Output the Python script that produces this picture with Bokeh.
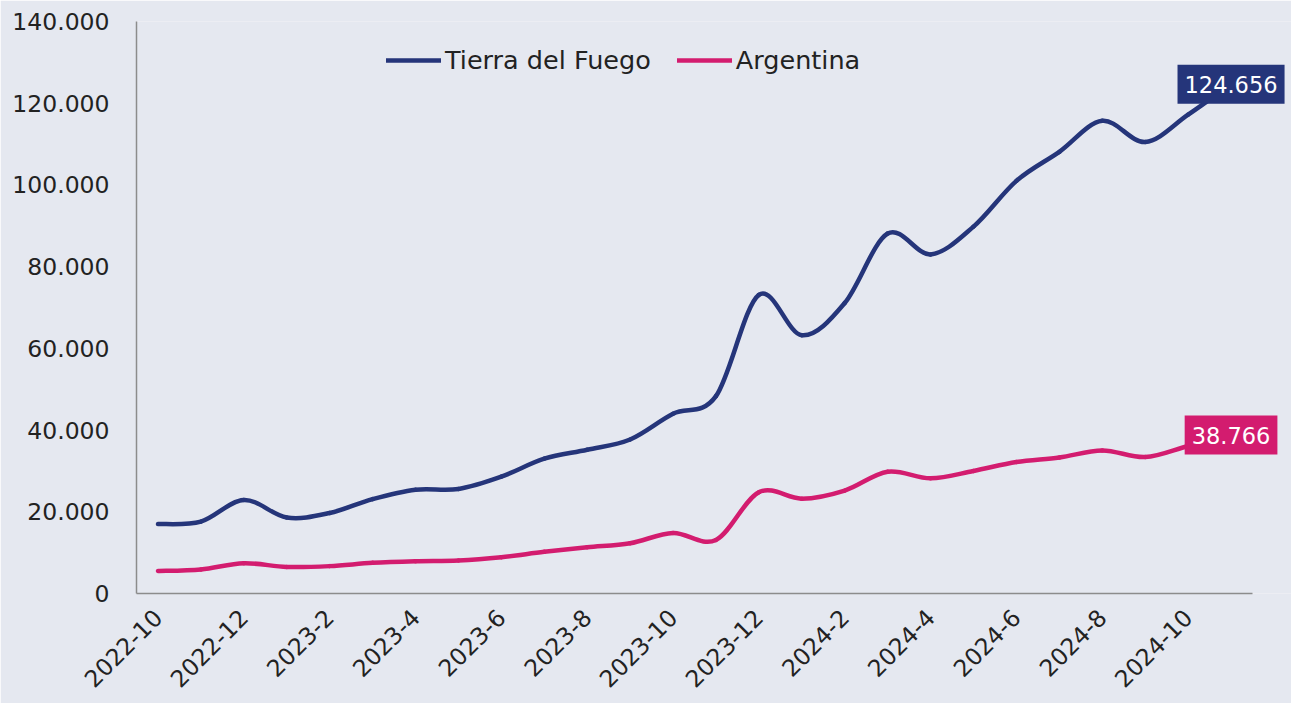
import math
from bokeh.plotting import figure
from bokeh.models import Range1d, FixedTicker, Label, Legend, LegendItem, ColumnDataSource
from bokeh.embed import file_html
from bokeh.resources import INLINE

months = ["2022-10", "2022-11", "2022-12", "2023-1", "2023-2", "2023-3", "2023-4", "2023-5",
          "2023-6", "2023-7", "2023-8", "2023-9", "2023-10", "2023-11", "2023-12", "2024-1",
          "2024-2", "2024-3", "2024-4", "2024-5", "2024-6", "2024-7", "2024-8", "2024-9",
          "2024-10", "2024-11"]
tierra_del_fuego = [17000, 17600, 22900, 18600, 19700, 23100, 25400, 25600, 28600, 33000,
                    35200, 37700, 44000, 48300, 73100, 63200, 71100, 88100, 83000, 89800,
                    101000, 108100, 115700, 110500, 117200, 124656]
argentina = [5500, 5900, 7400, 6500, 6700, 7500, 7900, 8100, 8900, 10200,
             11300, 12300, 14800, 13100, 24800, 23200, 25200, 29800, 28200, 30000,
             32200, 33300, 35000, 33400, 36100, 38766]
y_ticks = [0, 20000, 40000, 60000, 80000, 100000, 120000, 140000]
y_tick_labels = ["0", "20.000", "40.000", "60.000", "80.000", "100.000", "120.000", "140.000"]
x_tick_idx = list(range(0, len(months) - 1, 2))

BLUE = "#25357A"
PINK = "#D31C6F"
BG = "#E5E8F0"
FONT = "DejaVu Sans"
TXT = "#222222"

W, H = 1291, 703
LEFT, RIGHT_FRAME, TOP, BOTTOM = 136, 1252, 21, 593


def fmt(v):
    return f"{v:,}".replace(",", ".")


def catmull_bezier(ys):
    n = len(ys)
    xs = list(range(n))
    d = dict(x0=[], y0=[], x1=[], y1=[], cx0=[], cy0=[], cx1=[], cy1=[])
    for i in range(n - 1):
        p0 = i - 1 if i > 0 else i
        p3 = i + 2 if i + 2 < n else i + 1
        d["x0"].append(xs[i]); d["y0"].append(ys[i])
        d["x1"].append(xs[i + 1]); d["y1"].append(ys[i + 1])
        d["cx0"].append(xs[i] + (xs[i + 1] - xs[p0]) / 6)
        d["cy0"].append(ys[i] + (ys[i + 1] - ys[p0]) / 6)
        d["cx1"].append(xs[i + 1] - (xs[p3] - xs[i]) / 6)
        d["cy1"].append(ys[i + 1] - (ys[p3] - ys[i]) / 6)
    return ColumnDataSource(d)


# the frame is extended to the right edge so the end labels are not clipped;
# the x axis line itself is bounded to the category span
n = len(months)
px_per_cat = (RIGHT_FRAME - LEFT) / n
x_end = (n - 0.5) + (W - RIGHT_FRAME) / px_per_cat

p = figure(width=W, height=H, output_backend="svg", toolbar_location=None,
           x_range=Range1d(-0.5, x_end), y_range=Range1d(0, 140000),
           min_border_left=LEFT, min_border_right=0, min_border_top=TOP,
           min_border_bottom=H - BOTTOM)
p.background_fill_color = BG
p.border_fill_color = BG
p.outline_line_color = None
p.grid.visible = False

r1 = p.bezier(x0="x0", y0="y0", x1="x1", y1="y1", cx0="cx0", cy0="cy0", cx1="cx1", cy1="cy1",
              source=catmull_bezier(tierra_del_fuego), line_color=BLUE, line_width=4.5,
              line_cap="round")
r2 = p.bezier(x0="x0", y0="y0", x1="x1", y1="y1", cx0="cx0", cy0="cy0", cx1="cx1", cy1="cy1",
              source=catmull_bezier(argentina), line_color=PINK, line_width=4.5,
              line_cap="round")

# axes
p.yaxis.ticker = FixedTicker(ticks=y_ticks)
p.yaxis.major_label_overrides = {t: l for t, l in zip(y_ticks, y_tick_labels)}
p.xaxis.ticker = FixedTicker(ticks=x_tick_idx)
p.xaxis.major_label_overrides = {i: months[i] for i in x_tick_idx}
p.xaxis.major_label_orientation = math.pi / 4
p.xaxis.bounds = (-0.5, n - 0.5)
for ax in (p.xaxis, p.yaxis):
    ax.axis_line_color = "#8C8C8C"
    ax.axis_line_width = 1.5
    ax.major_tick_line_color = None
    ax.minor_tick_line_color = None
    ax.major_tick_out = 0
    ax.major_tick_in = 0
    ax.major_label_text_font = FONT
    ax.major_label_text_font_size = "23.5px"
    ax.major_label_text_color = TXT
p.yaxis.major_label_standoff = 27
p.xaxis.major_label_standoff = 20

# end labels
for series, col in ((tierra_del_fuego, BLUE), (argentina, PINK)):
    p.add_layout(Label(x=len(series) - 1, y=series[-1], text=fmt(series[-1]),
                       text_align="center", text_baseline="middle",
                       text_font=FONT, text_font_size="22.5px", text_color="white",
                       background_fill_color=col, background_fill_alpha=1.0,
                       padding=dict(left=7, right=7, top=11, bottom=11)))

legend = Legend(items=[LegendItem(label="Tierra del Fuego", renderers=[r1]),
                       LegendItem(label="Argentina", renderers=[r2])],
                orientation="horizontal", location=(250, 518),
                background_fill_alpha=0, border_line_color=None,
                label_text_font=FONT, label_text_font_size="25.5px", label_text_color=TXT,
                glyph_width=55, glyph_height=26, label_standoff=4, spacing=26,
                padding=0, margin=0)
p.add_layout(legend)

open("out.html", "w").write(file_html(p, INLINE))
